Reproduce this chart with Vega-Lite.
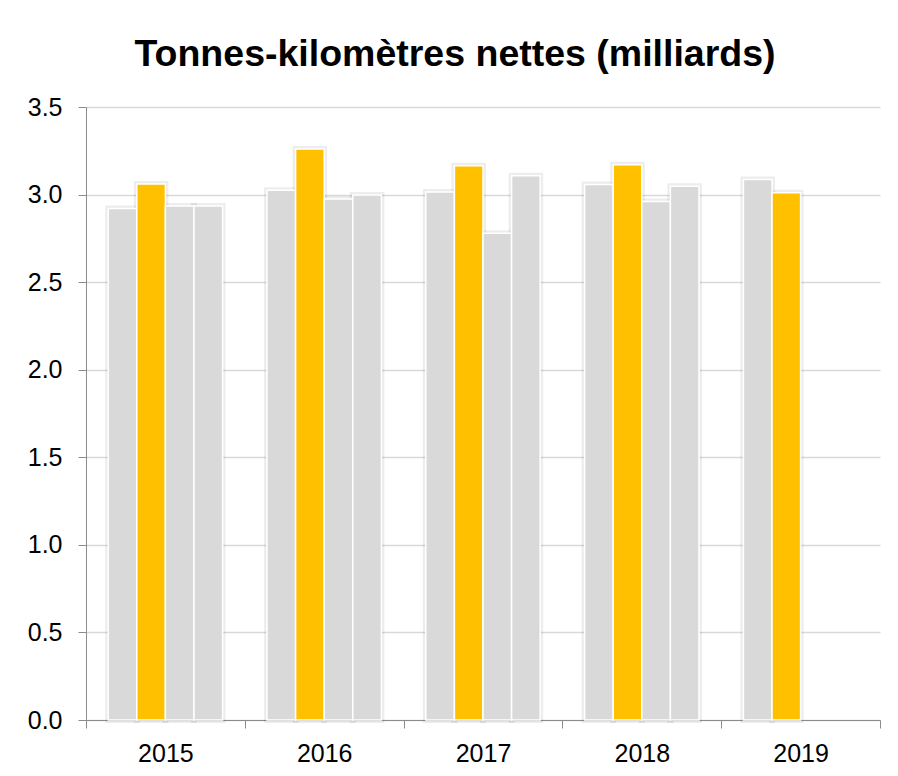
{
  "$schema": "https://vega.github.io/schema/vega-lite/v6.json",
  "width": 794,
  "height": 613,
  "autosize": "none",
  "padding": {"left": 86, "top": 107, "right": 18, "bottom": 56},
  "background": "white",
  "title": {"text": "Tonnes-kilomètres nettes (milliards)", "font": "Liberation Sans", "fontSize": 37.5, "fontWeight": "bold", "color": "black", "anchor": "middle", "dx": -28, "baseline": "alphabetic", "offset": -8},
  "data": {"values": [
    {"year": "2015", "quarter": "T1", "value": 2.92},
    {"year": "2015", "quarter": "T2", "value": 3.06},
    {"year": "2015", "quarter": "T3", "value": 2.935},
    {"year": "2015", "quarter": "T4", "value": 2.935},
    {"year": "2016", "quarter": "T1", "value": 3.025},
    {"year": "2016", "quarter": "T2", "value": 3.26},
    {"year": "2016", "quarter": "T3", "value": 2.975},
    {"year": "2016", "quarter": "T4", "value": 2.998},
    {"year": "2017", "quarter": "T1", "value": 3.014},
    {"year": "2017", "quarter": "T2", "value": 3.164},
    {"year": "2017", "quarter": "T3", "value": 2.779},
    {"year": "2017", "quarter": "T4", "value": 3.108},
    {"year": "2018", "quarter": "T1", "value": 3.057},
    {"year": "2018", "quarter": "T2", "value": 3.17},
    {"year": "2018", "quarter": "T3", "value": 2.96},
    {"year": "2018", "quarter": "T4", "value": 3.047},
    {"year": "2019", "quarter": "T1", "value": 3.086},
    {"year": "2019", "quarter": "T2", "value": 3.011}
  ]},
  "encoding": {
    "x": {"field": "year", "type": "nominal", "scale": {"paddingInner": 0, "paddingOuter": 0},
      "axis": {"title": null, "labelAngle": 0, "tickBand": "extent", "tickSize": 8, "tickColor": "#8c8c8c", "domainColor": "#8c8c8c", "labelFont": "Liberation Sans", "labelFontSize": 25, "labelColor": "black", "labelPadding": 13, "grid": false}},
    "xOffset": {"field": "quarter", "type": "nominal", "scale": {"domain": ["T1", "T2", "T3", "T4"], "paddingInner": 0, "paddingOuter": 0.777}},
    "y": {"field": "value", "type": "quantitative", "scale": {"domain": [0, 3.5]},
      "axis": {"title": null, "values": [0, 0.5, 1, 1.5, 2, 2.5, 3, 3.5], "format": ".1f", "tickSize": 8, "tickColor": "#8c8c8c", "domainColor": "#8c8c8c", "gridColor": "#d9d9d9", "gridWidth": 1.5, "labelFont": "Liberation Sans", "labelFontSize": 25, "labelColor": "black", "labelPadding": 16}}
  },
  "layer": [
    {"mark": {"type": "bar", "fill": "#000000", "fillOpacity": 0, "stroke": "#000000", "strokeOpacity": 0.07, "strokeWidth": 6}},
    {"mark": {"type": "bar", "stroke": "white", "strokeWidth": 1.5},
      "encoding": {"color": {"field": "quarter", "type": "nominal", "scale": {"domain": ["T1", "T2", "T3", "T4"], "range": ["#D9D9D9", "#FFC000", "#D9D9D9", "#D9D9D9"]}, "legend": null}}}
  ],
  "config": {"view": {"stroke": null}}
}
